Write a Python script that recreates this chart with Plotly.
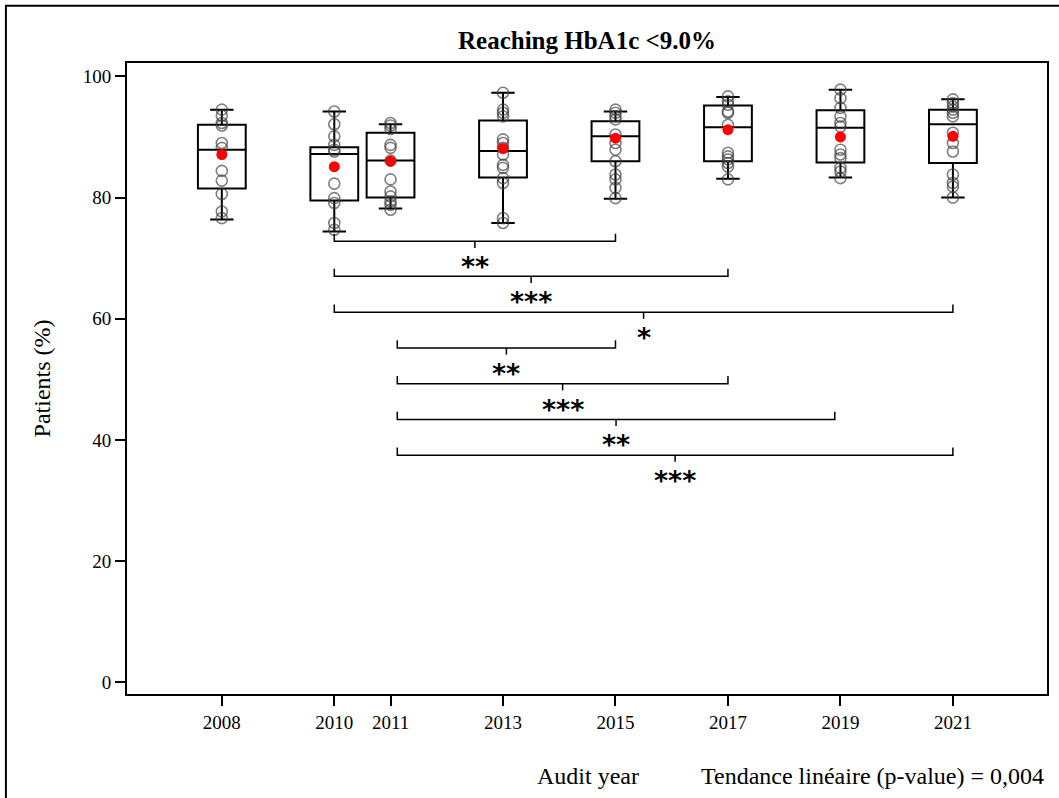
import plotly.graph_objects as go

# ---------------- data ----------------
years = [2008, 2010, 2011, 2013, 2015, 2017, 2019, 2021]
tick_labels = ["2008", "2010", "2011", "2013", "2015", "2017", "2019", "2021"]

q1 = [81.5, 79.5, 80.0, 83.3, 86.0, 86.0, 85.8, 85.7]
median = [87.9, 87.2, 86.1, 87.7, 90.1, 91.6, 91.5, 92.1]
q3 = [92.0, 88.3, 90.7, 92.7, 92.6, 95.2, 94.4, 94.5]
lower_whisker = [76.4, 74.4, 78.2, 75.8, 79.8, 83.1, 83.3, 80.0]
upper_whisker = [94.5, 94.2, 92.1, 97.3, 94.2, 96.6, 97.8, 96.2]
means = [87.1, 85.1, 86.0, 88.1, 89.8, 91.2, 90.0, 90.1]

pts_2008 = [94.5, 93.5, 92.3, 91.9, 89.0, 88.2, 84.4, 82.8, 80.6, 77.7, 76.6]
pts_2010 = [94.2, 92.1, 90.1, 88.7, 87.9, 87.6, 82.3, 79.9, 79.1, 75.8, 74.7]
pts_2011 = [92.3, 91.9, 91.3, 88.7, 88.2, 86.1, 83.0, 81.0, 80.2, 79.4, 78.8, 78.0]
pts_2013 = [97.3, 94.5, 94.0, 93.4, 89.6, 89.0, 88.2, 87.1, 85.4, 84.9, 83.2, 82.4, 76.6, 75.8]
pts_2015 = [94.5, 94.0, 93.4, 92.9, 90.4, 89.0, 87.9, 86.0, 83.8, 83.0, 81.6, 79.9]
pts_2017 = [96.7, 95.9, 95.3, 94.2, 94.0, 92.0, 87.4, 86.8, 86.3, 85.7, 85.1, 83.0]
pts_2019 = [97.8, 96.4, 94.8, 93.4, 92.3, 91.7, 87.9, 87.1, 86.5, 84.9, 84.3, 83.2]
pts_2021 = [96.2, 95.6, 95.0, 94.5, 94.0, 93.4, 90.7, 89.0, 87.6, 83.8, 82.4, 81.8, 80.0]
points = [pts_2008, pts_2010, pts_2011, pts_2013, pts_2015, pts_2017, pts_2019, pts_2021]

# significance brackets
bracket_start = [2010, 2010, 2010, 2011.12, 2011.12, 2011.12, 2011.12]
bracket_end = [2015, 2017, 2021, 2015, 2017, 2018.9, 2021]
bracket_level = [72.8, 67.0, 61.1, 55.2, 49.3, 43.4, 37.5]
bracket_label = ["**", "***", "*", "**", "***", "**", "***"]

title_text = "<b>Reaching HbA1c &lt;9.0%</b>"
x_title = "Audit year"
y_title = "Patients (%)"
trend_text = "Tendance linéaire (p-value) = 0,004"

# ---------------- figure ----------------
FONT = "Liberation Serif"
fig = go.Figure()

fig.add_trace(go.Box(
    x=years, q1=q1, median=median, q3=q3,
    lowerfence=lower_whisker, upperfence=upper_whisker,
    width=0.85, whiskerwidth=0.49,
    line=dict(color="black", width=2),
    fillcolor="rgba(255,255,255,0)",
    boxpoints=False, showlegend=False, hoverinfo="skip",
))

px_, py_ = [], []
for yr, vals in zip(years, points):
    px_ += [yr] * len(vals)
    py_ += vals
fig.add_trace(go.Scatter(
    x=px_, y=py_, mode="markers", showlegend=False, hoverinfo="skip",
    marker=dict(symbol="circle-open", size=11, color="rgba(60,60,60,0.65)",
                line=dict(width=1.6)),
))

fig.add_trace(go.Scatter(
    x=years, y=means, mode="markers", showlegend=False, hoverinfo="skip",
    marker=dict(symbol="circle", size=11, color="#ff0000"),
))

shapes = []
annotations = []
rise = 1.25
drop = 1.1
for x0, x1, lvl, lab in zip(bracket_start, bracket_end, bracket_level, bracket_label):
    xm = (x0 + x1) / 2
    shapes.append(dict(
        type="path", xref="x", yref="y",
        path=f"M {x0},{lvl + rise} L {x0},{lvl} L {x1},{lvl} L {x1},{lvl + rise}",
        line=dict(color="black", width=1.5),
    ))
    shapes.append(dict(
        type="line", xref="x", yref="y", x0=xm, x1=xm, y0=lvl, y1=lvl - drop,
        line=dict(color="black", width=1.5),
    ))
    annotations.append(dict(
        x=xm, y=lvl - 4.2, xref="x", yref="y", text=f"<b>{lab}</b>", showarrow=False,
        xanchor="center", yanchor="middle",
        font=dict(family="DejaVu Sans", size=27, color="black"),
    ))

# outer frame (left and top edges visible)
shapes.append(dict(
    type="path", xref="paper", yref="paper",
    path="M -0.1316,-0.2 L -0.1316,1.0908 L 1.02,1.0908",
    line=dict(color="black", width=2),
))

annotations += [
    dict(x=0.5, y=1.0353, xref="paper", yref="paper", text=title_text,
         showarrow=False, xanchor="center", yanchor="middle",
         font=dict(family=FONT, size=25, color="black")),
    dict(x=-0.0925, y=0.5, xref="paper", yref="paper", text=y_title,
         showarrow=False, xanchor="center", yanchor="middle", textangle=-90,
         font=dict(family=FONT, size=24, color="black")),
    dict(x=0.5014, y=-0.1307, xref="paper", yref="paper", text=x_title,
         showarrow=False, xanchor="center", yanchor="middle",
         font=dict(family=FONT, size=24, color="black")),
    dict(x=0.999, y=-0.1307, xref="paper", yref="paper", text=trend_text,
         showarrow=False, xanchor="right", yanchor="middle",
         font=dict(family=FONT, size=24, color="black")),
]

fig.update_layout(
    width=1059, height=798, autosize=False,
    margin=dict(l=127, r=10, t=63, b=104, pad=0),
    paper_bgcolor="white", plot_bgcolor="white",
    font=dict(family=FONT, size=19, color="black"),
    shapes=shapes, annotations=annotations,
    showlegend=False,
)
fig.update_xaxes(
    range=[2006.314, 2022.673], tickmode="array", tickvals=years, ticktext=tick_labels,
    ticks="outside", ticklen=10, tickwidth=1.5, tickcolor="black",
    showline=True, linecolor="black", linewidth=2, mirror=True,
    showgrid=False, zeroline=False,
    tickfont=dict(family=FONT, size=19, color="black"),
)
fig.update_yaxes(
    range=[-1.9, 102.2], tickmode="array", tickvals=[0, 20, 40, 60, 80, 100],
    ticks="outside", ticklen=10, tickwidth=1.5, tickcolor="black",
    showline=True, linecolor="black", linewidth=2, mirror=True,
    showgrid=False, zeroline=False,
    tickfont=dict(family=FONT, size=19, color="black"),
)

fig.write_html("out.html")
